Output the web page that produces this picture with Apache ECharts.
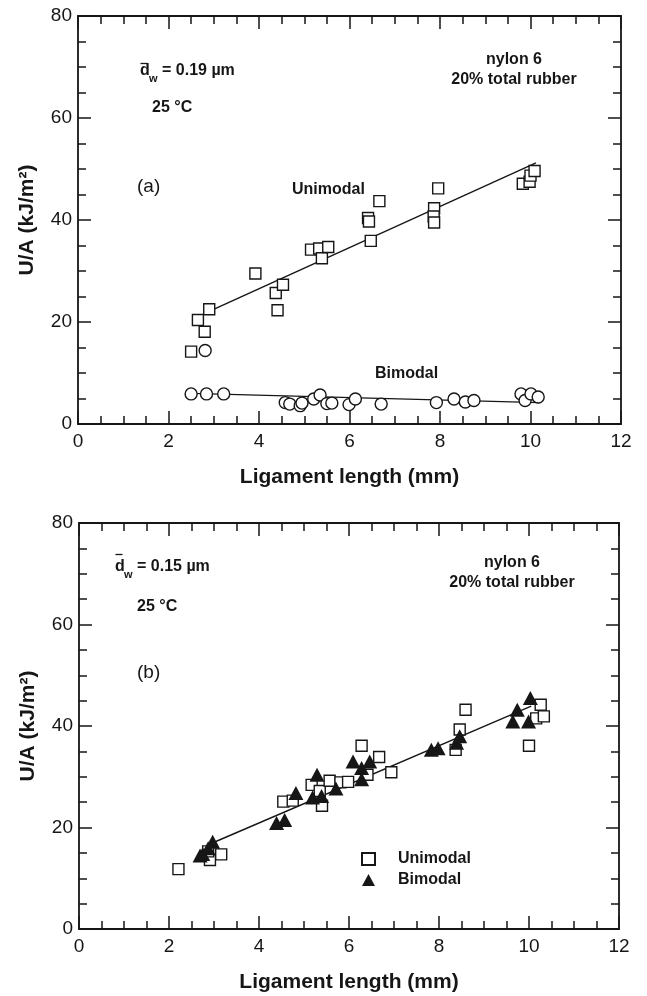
<!DOCTYPE html>
<html>
<head>
<meta charset="utf-8">
<script src="https://cdn.jsdelivr.net/npm/echarts@6/dist/echarts.min.js"></script>
<style>
  html, body { margin: 0; padding: 0; background: #fff; }
  #chart { width: 647px; height: 996px; }
</style>
</head>
<body>
<div id="chart"></div>
<script>
// Panel (a): mean particle size 0.19 µm — [ligament length (mm), U/A (kJ/m²)]
const panelAUnimodal = [
  [2.50, 14.2], [2.65, 20.4], [2.80, 18.1], [2.90, 22.5], [3.92, 29.5],
  [4.37, 25.7], [4.41, 22.3], [4.53, 27.3], [5.15, 34.2], [5.33, 34.4],
  [5.39, 32.5], [5.53, 34.7], [6.41, 40.4], [6.43, 39.7], [6.47, 35.9],
  [6.66, 43.7], [7.87, 42.3], [7.86, 40.7], [7.87, 39.5], [7.96, 46.2],
  [9.83, 47.1], [9.98, 47.5], [10.00, 48.7], [10.09, 49.6]
];
const panelABimodal = [
  [2.50, 5.9], [2.84, 5.9], [3.22, 5.9], [2.81, 14.4], [4.58, 4.2],
  [4.68, 3.9], [4.91, 3.6], [4.95, 4.1], [5.21, 4.9], [5.35, 5.7],
  [5.50, 4.0], [5.61, 4.1], [5.99, 3.8], [6.13, 4.9], [6.70, 3.9],
  [7.92, 4.2], [8.31, 4.9], [8.56, 4.3], [8.75, 4.6], [9.79, 5.9],
  [9.88, 4.6], [10.01, 5.9], [10.17, 5.3]
];
// Linear fits for panel (a)
const panelAUnimodalFit = [[2.85, 21.9], [10.12, 51.2]];
const panelABimodalFit = [[2.50, 6.0], [10.20, 4.2]];

// Panel (b): mean particle size 0.15 µm
const panelBUnimodal = [
  [2.21, 11.8], [2.91, 13.6], [3.16, 14.7], [2.87, 15.3], [4.54, 25.1],
  [4.75, 25.3], [5.17, 28.4], [5.40, 24.3], [5.35, 27.2], [5.57, 29.2],
  [5.81, 28.9], [5.98, 29.0], [6.28, 36.1], [6.41, 30.4], [6.67, 33.9],
  [6.94, 30.9], [8.37, 35.3], [8.46, 39.3], [8.59, 43.2], [10.00, 36.1],
  [10.16, 41.5], [10.26, 44.2], [10.33, 41.9]
];
const panelBBimodal = [
  [2.75, 14.8], [2.69, 14.5], [2.87, 15.9], [2.97, 17.2], [4.39, 20.9],
  [4.57, 21.5], [4.82, 26.8], [5.19, 25.9], [5.29, 30.4], [5.39, 26.2],
  [5.71, 27.7], [6.09, 33.0], [6.28, 31.7], [6.28, 29.5], [6.46, 33.0],
  [7.83, 35.3], [7.98, 35.6], [8.39, 36.7], [8.46, 38.0], [9.64, 40.9],
  [9.74, 43.2], [9.99, 40.9], [10.03, 45.5]
];
const panelBFit = [[2.95, 16.9], [10.05, 43.9]];

// Axis ranges
const xRange = { min: 0, max: 12, interval: 2 };
const yRange = { min: 0, max: 80, interval: 20 };
const xTitle = 'Ligament length (mm)';
const yTitle = 'U/A (kJ/m\u00B2)';

const INK = '#161616';
const FONT = '"Liberation Sans", Arial, Helvetica, sans-serif';

function xAxisDef(gridIndex, position) {
  const main = position === 'bottom';
  return {
    type: 'value', gridIndex, position,
    min: xRange.min, max: xRange.max, interval: xRange.interval,
    name: main ? xTitle : '',
    nameLocation: 'middle', nameGap: 43,
    nameTextStyle: { fontSize: 21, fontWeight: 'bold', color: INK, fontFamily: FONT },
    axisLine: { show: true, onZero: false, lineStyle: { color: INK, width: 1.8 } },
    axisTick: { show: true, inside: true, length: 13, lineStyle: { color: INK, width: 1.5 } },
    minorTick: { show: true, splitNumber: 4, length: 8, lineStyle: { color: INK, width: 1.5 } },
    splitLine: { show: false },
    axisLabel: { show: main, fontSize: 19, color: INK, margin: 8, fontFamily: FONT }
  };
}
function yAxisDef(gridIndex, position) {
  const main = position === 'left';
  return {
    type: 'value', gridIndex, position,
    min: yRange.min, max: yRange.max, interval: yRange.interval,
    name: main ? yTitle : '',
    nameLocation: 'middle', nameGap: 40, nameRotate: 90,
    nameTextStyle: { fontSize: 21, fontWeight: 'bold', color: INK, fontFamily: FONT },
    axisLine: { show: true, onZero: false, lineStyle: { color: INK, width: 1.8 } },
    axisTick: { show: true, inside: true, length: 13, lineStyle: { color: INK, width: 1.5 } },
    minorTick: { show: true, splitNumber: 4, length: 8, lineStyle: { color: INK, width: 1.5 } },
    splitLine: { show: false },
    axisLabel: { show: main, fontSize: 19, color: INK, margin: 6, fontFamily: FONT }
  };
}

const squareStyle = { color: '#fff', borderColor: INK, borderWidth: 1.4, opacity: 1 };
const circleStyle = { color: '#fff', borderColor: INK, borderWidth: 1.4, opacity: 1 };
const triangleStyle = { color: INK, opacity: 1 };
const fitLine = { color: INK, width: 1.4 };

function fit(name, data, xi) {
  return {
    name, type: 'line', xAxisIndex: xi, yAxisIndex: xi, data,
    symbol: 'none', silent: true, lineStyle: fitLine, z: 1
  };
}

function label(text, x, y, opts) {
  return {
    type: 'text', x, y,
    style: Object.assign({
      text, fill: INK, fontFamily: FONT, fontSize: 16, fontWeight: 'bold',
      verticalAlign: 'middle', align: 'left'
    }, opts || {})
  };
}
function bar(x1, x2, y) {
  return { type: 'line', shape: { x1, y1: y, x2, y2: y }, style: { stroke: INK, lineWidth: 1.3 } };
}

const chart = echarts.init(document.getElementById('chart'), null, { renderer: 'canvas' });
chart.setOption({
  animation: false,
  backgroundColor: '#fff',
  grid: [
    { left: 78, top: 16, width: 543, height: 408 },
    { left: 79, top: 523, width: 540, height: 406 }
  ],
  xAxis: [xAxisDef(0, 'bottom'), xAxisDef(0, 'top'), xAxisDef(1, 'bottom'), xAxisDef(1, 'top')],
  yAxis: [yAxisDef(0, 'left'), yAxisDef(0, 'right'), yAxisDef(1, 'left'), yAxisDef(1, 'right')],
  legend: {
    data: [{ name: 'Unimodal', icon: 'rect' }, { name: 'Bimodal', icon: 'triangle' }],
    orient: 'vertical', left: 356, top: 846,
    itemWidth: 13, itemHeight: 12, itemGap: 5,
    textStyle: { fontSize: 16, fontWeight: 'bold', color: INK, fontFamily: FONT, padding: [0, 0, 0, 18] },
    selectedMode: false
  },
  series: [
    fit('fitAUni', panelAUnimodalFit, 0),
    fit('fitABi', panelABimodalFit, 0),
    { name: 'a-Unimodal', type: 'scatter', xAxisIndex: 0, yAxisIndex: 0, data: panelAUnimodal,
      symbol: 'rect', symbolSize: 11, itemStyle: squareStyle },
    { name: 'a-Bimodal', type: 'scatter', xAxisIndex: 0, yAxisIndex: 0, data: panelABimodal,
      symbol: 'circle', symbolSize: 12, itemStyle: circleStyle },
    fit('fitB', panelBFit, 2),
    { name: 'Unimodal', type: 'scatter', xAxisIndex: 2, yAxisIndex: 2, data: panelBUnimodal,
      symbol: 'rect', symbolSize: 11, itemStyle: squareStyle },
    { name: 'Bimodal', type: 'scatter', xAxisIndex: 2, yAxisIndex: 2, data: panelBBimodal,
      symbol: 'triangle', symbolSize: [15, 14], itemStyle: triangleStyle }
  ],
  graphic: [
    // panel (a) annotations
    label('d', 140, 71), bar(140.5, 147.5, 63.5), label('w', 149, 79, { fontSize: 11 }),
    label('= 0.19 \u00B5m', 162, 71),
    label('25 \u00B0C', 152, 108),
    label('(a)', 137, 187, { fontWeight: 'normal', fontSize: 19 }),
    label('nylon 6', 514, 60, { align: 'center' }),
    label('20% total rubber', 514, 80, { align: 'center' }),
    label('Unimodal', 292, 190),
    label('Bimodal', 375, 374),
    // panel (b) annotations
    label('d', 115, 567), bar(115.5, 122.5, 554.5), label('w', 124, 575, { fontSize: 11 }),
    label('= 0.15 \u00B5m', 137, 567),
    label('25 \u00B0C', 137, 607),
    label('(b)', 137, 673, { fontWeight: 'normal', fontSize: 19 }),
    label('nylon 6', 512, 563, { align: 'center' }),
    label('20% total rubber', 512, 583, { align: 'center' })
  ]
});
</script>
</body>
</html>
